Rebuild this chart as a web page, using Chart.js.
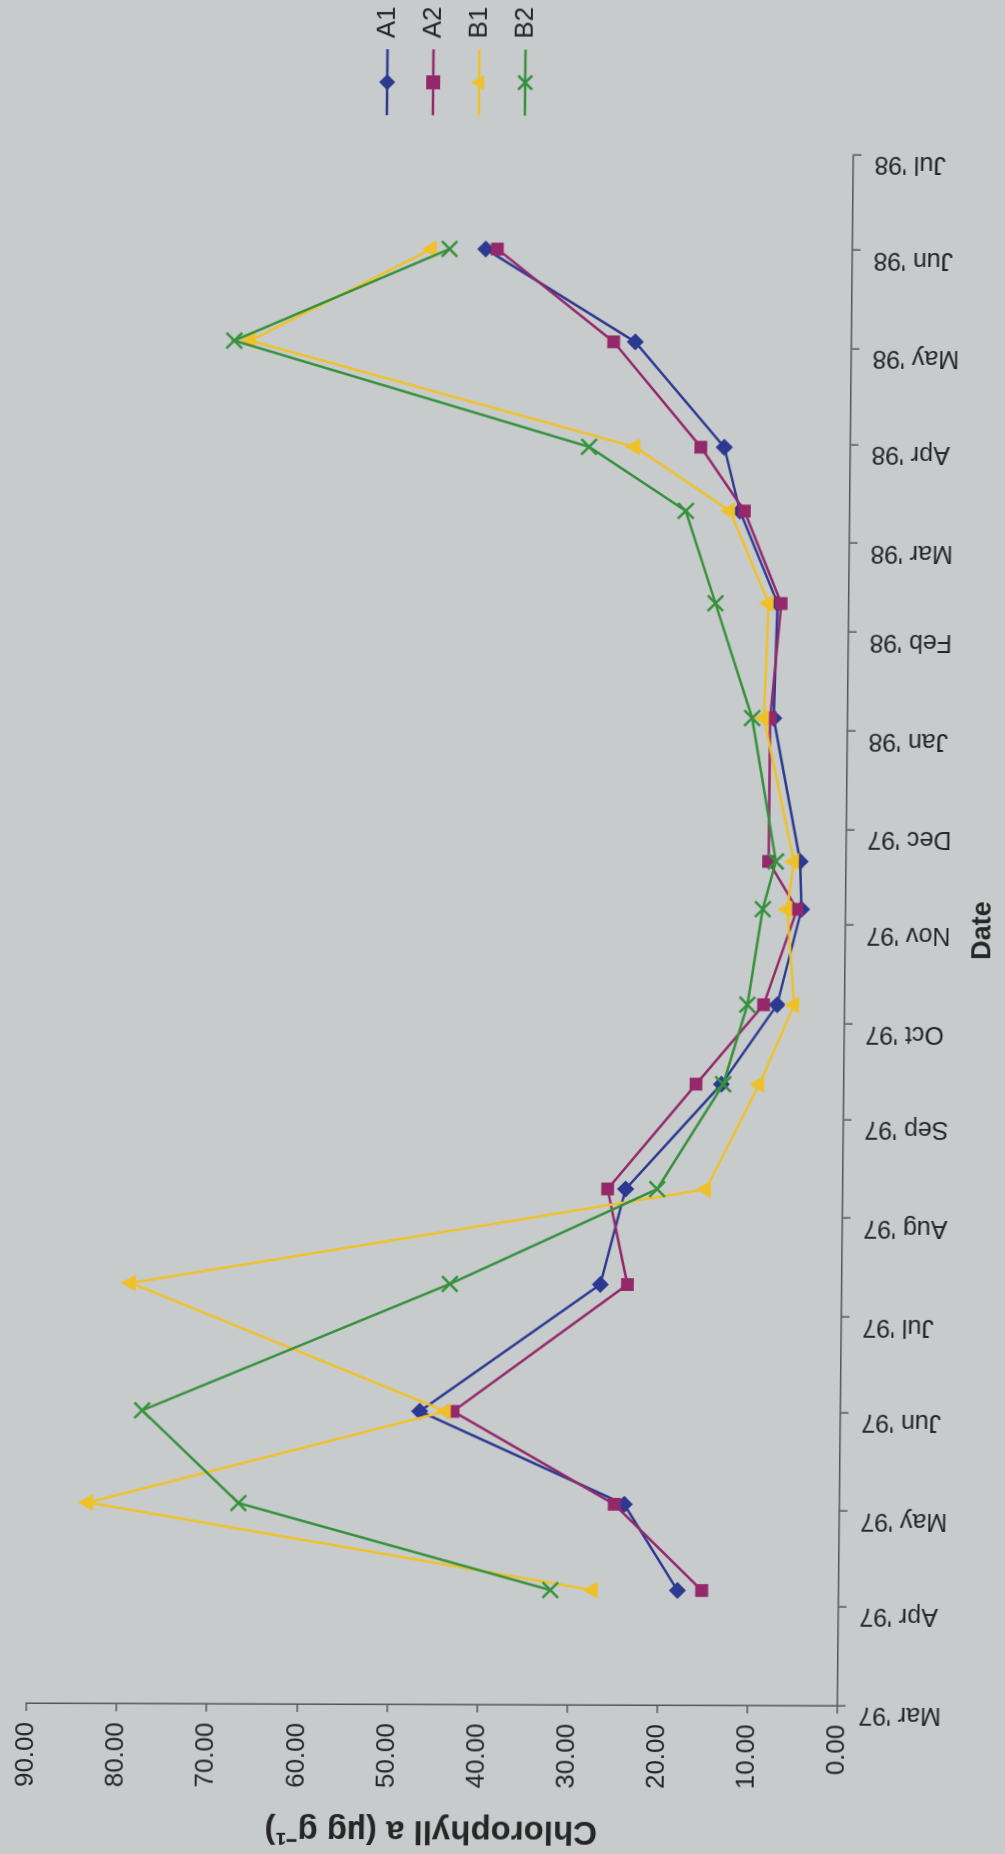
<!DOCTYPE html>
<html>
<head>
<meta charset="utf-8">
<title>Chlorophyll a, 1997–1998</title>
<script src="https://cdn.jsdelivr.net/npm/chart.js@4.4.1/dist/chart.umd.min.js"></script>
<style>
  html, body { margin: 0; padding: 0; width: 1005px; height: 1854px; overflow: hidden; background: #c8cbcc; }
  /* the chart is laid out landscape and turned a quarter turn onto the portrait page */
  #frame {
    position: absolute; left: -424.5px; top: 424.5px;
    width: 1854px; height: 1005px;
    transform-origin: 50% 50%;
    transform: matrix(1, 0.0033, -0.0103, 1, 0, 0) rotate(-90deg);
  }
  canvas { display: block; }
</style>
</head>
<body>
<div id="frame"><canvas id="chl" width="1854" height="1005"></canvas></div>
<script>
// month ticks on the date axis
const monthTicks = ['1997-03-01','1997-04-01','1997-05-01','1997-06-01','1997-07-01','1997-08-01',
                    '1997-09-01','1997-10-01','1997-11-01','1997-12-01','1998-01-01','1998-02-01',
                    '1998-03-01','1998-04-01','1998-05-01','1998-06-01','1998-07-01'];
const monthLabels = ["Mar '97","Apr '97","May '97","Jun '97","Jul '97","Aug '97","Sep '97","Oct '97",
                     "Nov '97","Dec '97","Jan '98","Feb '98","Mar '98","Apr '98","May '98","Jun '98","Jul '98"];

// sampling dates
const sampleDates = ['1997-04-06','1997-05-03','1997-06-01','1997-07-11','1997-08-10','1997-09-12',
                     '1997-10-07','1997-11-06','1997-11-21','1998-01-05','1998-02-10','1998-03-11',
                     '1998-03-31','1998-05-03','1998-06-01'];

// chlorophyll a (µg g-1) per site
const seriesNames = ['A1', 'A2', 'B1', 'B2'];
const A1 = [17.9, 23.9, 46.7, 26.8, 24.1, 13.6, 7.5, 4.9, 5.1, 8.2, 7.9, 12.2, 14.0, 24.0, 40.7];
const A2 = [15.2, 25.0, 43.0, 23.8, 26.1, 16.4, 9.0, 5.4, 8.6, 8.6, 7.5, 11.7, 16.6, 26.4, 39.4];
const B1 = [27.3, 83.4, 43.8, 78.9, 15.2, 9.4, 5.6, 6.5, 5.8, 9.3, 8.9, 13.3, 23.9, 66.7, 46.7];
const B2 = [32.0, 66.7, 77.5, 43.5, 20.6, 13.4, 10.8, 9.2, 7.8, 10.6, 14.8, 18.2, 29.0, 68.5, 44.7];

const valueTicks = [0, 10, 20, 30, 40, 50, 60, 70, 80, 90];

const seriesColors = ['#2b3990', '#93296b', '#eec12a', '#35913c'];
const seriesMarkers = ['rectRot', 'rect', 'triangle', 'crossRot'];
const markerRadius = [7.5, 8, 8.5, 11];

// days since the first tick, used as the x value
const DAY = 86400000;
const origin = Date.parse(monthTicks[0] + 'T00:00:00Z');
const toDay = s => Math.round((Date.parse(s + 'T00:00:00Z') - origin) / DAY);
const tickDays = monthTicks.map(toDay);
const sampleDays = sampleDates.map(toDay);

const FONT = "'Liberation Sans', Arial, Helvetica, sans-serif";
Chart.defaults.font.family = FONT;
Chart.defaults.color = '#262626';

// legend key: a short line with the series marker on it
function legendIcon(color, style) {
  const c = document.createElement('canvas');
  c.width = 66; c.height = 26;
  const g = c.getContext('2d');
  const x = 33, y = 13;
  g.strokeStyle = color; g.fillStyle = color; g.lineWidth = 2.5;
  g.beginPath(); g.moveTo(0, y); g.lineTo(66, y); g.stroke();
  g.beginPath();
  if (style === 'rectRot') {
    g.moveTo(x, y - 8); g.lineTo(x + 8, y); g.lineTo(x, y + 8); g.lineTo(x - 8, y); g.closePath(); g.fill();
  } else if (style === 'rect') {
    g.fillRect(x - 7, y - 7, 14, 14);
  } else if (style === 'triangle') {
    g.moveTo(x, y - 8.5); g.lineTo(x + 7.5, y + 5); g.lineTo(x - 7.5, y + 5); g.closePath(); g.fill();
  } else {
    g.lineWidth = 2.5;
    g.moveTo(x - 7, y - 7); g.lineTo(x + 7, y + 7);
    g.moveTo(x + 7, y - 7); g.lineTo(x - 7, y + 7); g.stroke();
  }
  return c;
}
const legendIcons = seriesColors.map((c, i) => legendIcon(c, seriesMarkers[i]));

const seriesValues = [A1, A2, B1, B2];
const datasets = seriesNames.map((name, i) => ({
  label: name,
  data: sampleDays.map((d, k) => ({ x: d, y: seriesValues[i][k] })),
  borderColor: seriesColors[i],
  backgroundColor: seriesColors[i],
  borderWidth: 2.5,
  tension: 0,
  fill: false,
  pointStyle: seriesMarkers[i],
  pointRadius: markerRadius[i],
  pointBackgroundColor: seriesColors[i],
  pointBorderColor: seriesColors[i],
  pointBorderWidth: i === 3 ? 2.5 : 1.5,
  order: seriesNames.length - i
}));

// legend sits to the right of the plot, rows starting at a fixed spot
const LEGEND_LEFT = 1741;
const LEGEND_TOP = 365;
const legendPlacement = {
  id: 'legendPlacement',
  afterLayout(chart) {
    const lg = chart.legend;
    if (!lg) return;
    const pad = lg.options.labels.padding;
    const w = lg.width, h = lg.height;
    lg.left = LEGEND_LEFT - pad; lg.right = lg.left + w;
    lg.top = LEGEND_TOP - pad; lg.bottom = lg.top + h;
  }
};

new Chart(document.getElementById('chl'), {
  type: 'line',
  data: { datasets },
  plugins: [legendPlacement],
  options: {
    responsive: false,
    animation: false,
    layout: { padding: { left: 0, top: 34, right: 153, bottom: 0 } },
    plugins: {
      tooltip: { enabled: false },
      legend: {
        position: 'chartArea',
        align: 'start',
        labels: {
          font: { size: 26 },
          color: '#262626',
          padding: 20,
          usePointStyle: true,
          pointStyleWidth: 62,
          generateLabels(chart) {
            const items = Chart.defaults.plugins.legend.labels.generateLabels(chart);
            items.forEach(it => { it.pointStyle = legendIcons[it.datasetIndex]; });
            return items;
          },
          sort: (a, b) => a.datasetIndex - b.datasetIndex
        }
      }
    },
    scales: {
      x: {
        type: 'linear',
        min: tickDays[0],
        max: tickDays[tickDays.length - 1],
        afterFit(scale) { scale.height = 160; },
        afterBuildTicks(scale) { scale.ticks = tickDays.map(v => ({ value: v })); },
        ticks: {
          autoSkip: false,
          minRotation: 90,
          maxRotation: 90,
          padding: 13,
          labelOffset: -9,
          font: { size: 25 },
          color: '#262626',
          callback: (v, i) => monthLabels[i]
        },
        grid: { display: true, drawOnChartArea: false, drawTicks: true, tickLength: 8, color: '#555', lineWidth: 1.5 },
        border: { display: true, color: '#555', width: 1.5 },
        title: { display: true, text: 'Date', font: { size: 27, weight: 'bold' }, color: '#262626', padding: { top: 0, bottom: 6 } }
      },
      y: {
        type: 'linear',
        min: valueTicks[0],
        max: valueTicks[valueTicks.length - 1],
        afterFit(scale) { scale.width = 150; },
        afterBuildTicks(scale) { scale.ticks = valueTicks.map(v => ({ value: v })); },
        ticks: {
          padding: 11,
          font: { size: 26 },
          color: '#262626',
          callback: v => Number(v).toFixed(2)
        },
        grid: { display: true, drawOnChartArea: false, drawTicks: true, tickLength: 8, color: '#555', lineWidth: 1.5 },
        border: { display: true, color: '#555', width: 1.5 },
        title: { display: true, text: 'Chlorophyll a (µg g⁻¹)', font: { size: 33, weight: 'bold' }, color: '#262626', padding: { top: 4, bottom: 0 } }
      }
    }
  }
});
</script>
</body>
</html>
